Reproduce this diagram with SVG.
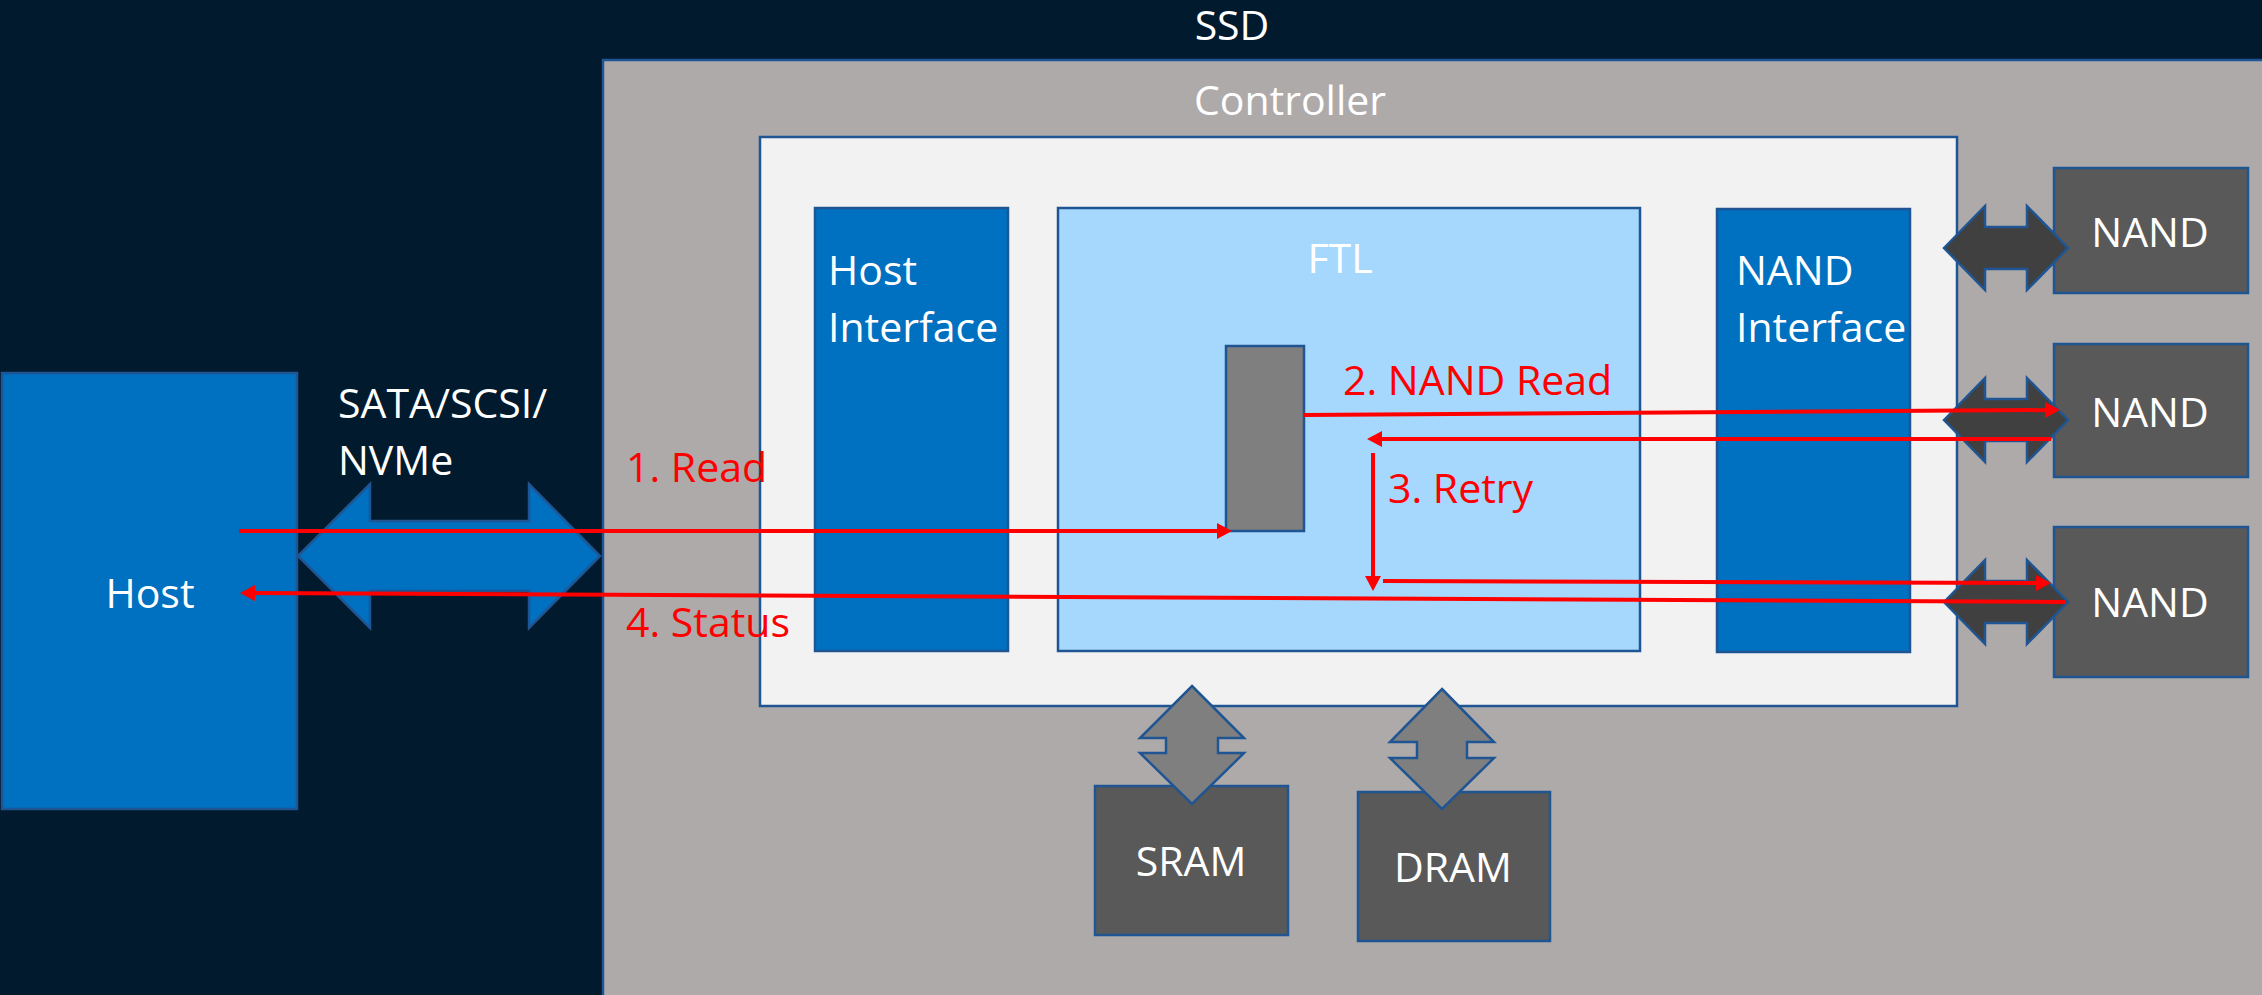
<svg xmlns="http://www.w3.org/2000/svg" width="2262" height="995" viewBox="0 0 2262 995">
<style>
.t{font-family:"Open Sans","Liberation Sans",sans-serif;font-size:41px;fill:#FFFFFF}
.r{font-family:"Open Sans","Liberation Sans",sans-serif;font-size:41px;fill:#FF0000}
.m{text-anchor:middle}
.bx{stroke:#1F5592;stroke-width:2.5}
.blue{fill:#0070C0}
.dk{fill:#595959}
.ln{stroke:#FF0000;stroke-width:4;fill:none}
</style>
<defs>
<marker id="ah" viewBox="0 0 15 16" refX="7" refY="8" markerWidth="15" markerHeight="16" markerUnits="userSpaceOnUse" orient="auto">
<path d="M0,0 L15,8 L0,16 z" fill="#FF0000"/>
</marker>
</defs>
<rect x="0" y="0" width="2262" height="995" fill="#011A2D"/>
<text class="t m" x="1232" y="40">SSD</text>
<g id="controller">
<rect class="bx" x="603" y="60" width="1700" height="1000" fill="#AEAAAA"/>
<text class="t m" x="1290" y="115">Controller</text>
</g>
<g id="core">
<rect class="bx" x="760" y="137" width="1197" height="569" fill="#F2F2F2"/>
</g>
<g id="host-interface">
<rect class="bx blue" x="815" y="208" width="193" height="443"/>
<text class="t" x="828" y="285">Host</text>
<text class="t" x="828" y="342">Interface</text>
</g>
<g id="ftl">
<rect class="bx" x="1058" y="208" width="582" height="443" fill="#A6D8FD"/>
<text class="t m" x="1340" y="273">FTL</text>
</g>
<g id="ftl-block">
<rect class="bx" x="1226" y="346" width="78" height="185" fill="#7F7F7F"/>
</g>
<g id="nand-interface">
<rect class="bx blue" x="1717" y="209" width="193" height="443"/>
<text class="t" x="1736" y="285">NAND</text>
<text class="t" x="1736" y="342">Interface</text>
</g>
<g id="host">
<rect class="bx blue" x="2" y="373" width="295" height="436"/>
<text class="t m" x="150" y="608">Host</text>
</g>
<text class="t" x="338" y="418">SATA/SCSI/</text>
<text class="t" x="338" y="475">NVMe</text>
<g id="nand1">
<rect class="bx dk" x="2054" y="168" width="194" height="125"/>
<text class="t m" x="2150" y="247">NAND</text>
</g>
<g id="nand2">
<rect class="bx dk" x="2054" y="344" width="194" height="133"/>
<text class="t m" x="2150" y="427">NAND</text>
</g>
<g id="nand3">
<rect class="bx dk" x="2054" y="527" width="194" height="150"/>
<text class="t m" x="2150" y="617">NAND</text>
</g>
<g id="sram">
<rect class="bx dk" x="1095" y="786" width="193" height="149"/>
<text class="t m" x="1191" y="876">SRAM</text>
</g>
<g id="dram">
<rect class="bx dk" x="1358" y="792" width="192" height="149"/>
<text class="t m" x="1453" y="882">DRAM</text>
</g>
<g id="connectors">
<polygon class="bx" fill="#0070C0" points="298,556 370,484 370,521 529,521 529,484 600,556 529,628 529,591 370,591 370,628"/>
<polygon class="bx" fill="#404040" points="1944,248 1985,206 1985,227 2027,227 2027,206 2068,248 2027,290 2027,269 1985,269 1985,290"/>
<polygon class="bx" fill="#404040" points="1944,420 1985,378 1985,399 2027,399 2027,378 2068,420 2027,462 2027,441 1985,441 1985,462"/>
<polygon class="bx" fill="#404040" points="1944,602 1985,560 1985,581 2027,581 2027,560 2068,602 2027,644 2027,623 1985,623 1985,644"/>
<polygon class="bx" fill="#7F7F7F" points="1192,686 1244,738 1218,738 1218,753 1244,753 1192,804 1140,753 1166,753 1166,738 1140,738"/>
<polygon class="bx" fill="#7F7F7F" points="1442,689 1494,742 1467,742 1467,758 1494,758 1442,809 1390,758 1417,758 1417,742 1390,742"/>
<line class="ln" x1="239" y1="531" x2="1224" y2="531" marker-end="url(#ah)"/>
<line class="ln" x1="1304" y1="415" x2="2052" y2="410" marker-end="url(#ah)"/>
<line class="ln" x1="2051" y1="439" x2="1375" y2="439" marker-end="url(#ah)"/>
<line class="ln" x1="1373" y1="453" x2="1373" y2="583" marker-end="url(#ah)"/>
<line class="ln" x1="1383" y1="581" x2="2043" y2="583" marker-end="url(#ah)"/>
<line class="ln" x1="2066" y1="602" x2="248" y2="593" marker-end="url(#ah)"/>
<text class="r" x="626" y="482">1. Read</text>
<text class="r" x="1343" y="395">2. NAND Read</text>
<text class="r" x="1388" y="503">3. Retry</text>
<text class="r" x="626" y="637">4. Status</text>
</g>
</svg>
